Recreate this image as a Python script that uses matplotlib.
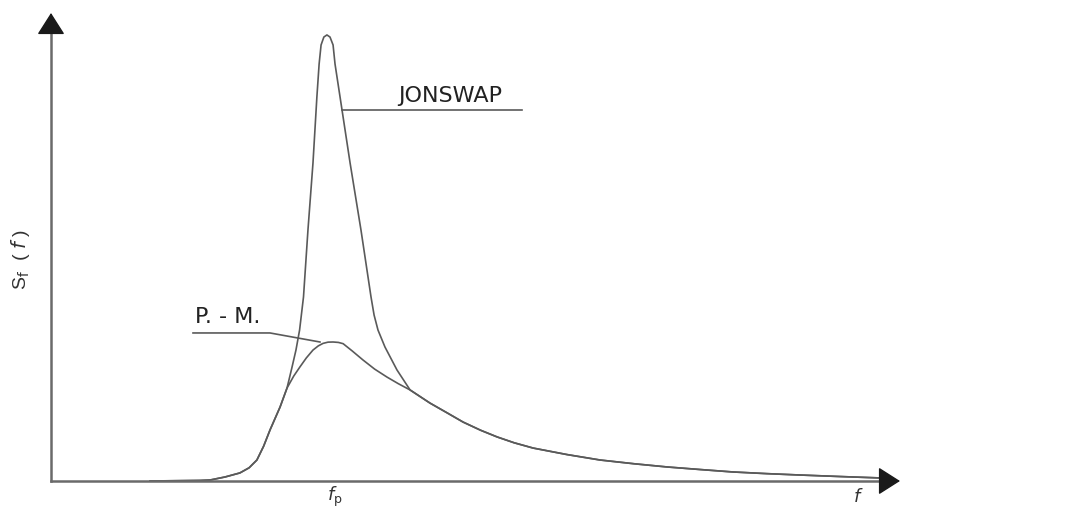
import matplotlib
matplotlib.use("Agg")
import matplotlib.pyplot as plt

# Frequency normalised by peak frequency (f / fp), spectral density normalised by P-M peak
pm_f = [0.355, 0.534, 0.570, 0.624, 0.677, 0.710, 0.738, 0.762, 0.785, 0.821, 0.846,
        0.870, 0.892, 0.915, 0.939, 0.958, 0.975, 0.993, 1.011, 1.030, 1.047, 1.080,
        1.118, 1.160, 1.204, 1.245, 1.287, 1.358, 1.420, 1.477, 1.540, 1.599, 1.660,
        1.728, 1.850, 1.968, 2.090, 2.208, 2.330, 2.444, 2.565, 2.685, 2.830, 2.971]
pm_s = [0.000, 0.004, 0.007, 0.029, 0.058, 0.095, 0.151, 0.250, 0.367, 0.532, 0.669,
        0.755, 0.820, 0.885, 0.942, 0.972, 0.990, 0.999, 1.000, 0.997, 0.988, 0.935,
        0.871, 0.805, 0.748, 0.700, 0.655, 0.561, 0.490, 0.424, 0.365, 0.317, 0.275,
        0.237, 0.190, 0.151, 0.124, 0.101, 0.082, 0.065, 0.053, 0.043, 0.032, 0.022]

js_f = [0.355, 0.534, 0.570, 0.624, 0.677, 0.710, 0.738, 0.762, 0.785, 0.821, 0.846,
        0.864, 0.878, 0.891, 0.905, 0.921, 0.939, 0.953, 0.961, 0.968, 0.978, 0.989,
        1.000, 1.011, 1.018, 1.036, 1.072, 1.111, 1.147, 1.158, 1.172, 1.197, 1.240,
        1.287, 1.358, 1.420, 1.477, 1.540, 1.599, 1.660, 1.728, 1.850, 1.968, 2.090,
        2.208, 2.330, 2.444, 2.565, 2.685, 2.830, 2.971]
js_s = [0.000, 0.004, 0.007, 0.029, 0.058, 0.095, 0.151, 0.250, 0.367, 0.532, 0.669,
        0.820, 0.942, 1.086, 1.324, 1.806, 2.288, 2.763, 3.000, 3.137, 3.194, 3.209,
        3.194, 3.137, 3.000, 2.763, 2.288, 1.806, 1.324, 1.194, 1.086, 0.964, 0.799,
        0.655, 0.561, 0.490, 0.424, 0.365, 0.317, 0.275, 0.237, 0.190, 0.151, 0.124,
        0.101, 0.082, 0.065, 0.053, 0.043, 0.032, 0.022]

labels = ["JONSWAP", "P. - M."]

W, H = 1083, 512
fig = plt.figure(figsize=(W / 100, H / 100), dpi=100)
fig.patch.set_facecolor("white")
x0, x1 = 51, 900
ytop, ybot = 13, 481
ax = fig.add_axes([x0 / W, (H - ybot) / H, (x1 - x0) / W, (ybot - ytop) / H])
ax.set_xlim(0, (x1 - x0) / 279)
ax.set_ylim(0, (ybot - ytop) / 139)
ax.axis("off")

col = "#5a5a5a"
ax.plot(js_f, js_s, color=col, lw=1.2, clip_on=False, solid_joinstyle="round")
ax.plot(pm_f, pm_s, color=col, lw=1.2, clip_on=False, solid_joinstyle="round")

# axes with arrows
xmax = ax.get_xlim()[1]
ymax = ax.get_ylim()[1]
ax.plot([0, xmax - 0.05], [0, 0], color="#6a6a6a", lw=1.8, clip_on=False)
ax.plot([0, 0], [0, ymax - 0.1], color="#6a6a6a", lw=1.8, clip_on=False)
ast = "-|>,head_length=0.55,head_width=0.35"
ax.annotate("", xy=(xmax, 0), xytext=(xmax - 0.07, 0), annotation_clip=False,
            arrowprops=dict(arrowstyle=ast, mutation_scale=25, color="#1a1a1a",
                            lw=1.0, shrinkA=0, shrinkB=0))
ax.annotate("", xy=(0, ymax), xytext=(0, ymax - 0.14), annotation_clip=False,
            arrowprops=dict(arrowstyle=ast, mutation_scale=25, color="#1a1a1a",
                            lw=1.0, shrinkA=0, shrinkB=0))

# leader lines and labels
ax.plot([1.043, 1.688], [2.669, 2.669], color=col, lw=1.2)
ax.text(1.244, 2.70, labels[0], fontsize=16, family="DejaVu Sans",
        ha="left", va="bottom", color="#222222")
ax.plot([0.509, 0.785, 0.964], [1.065, 1.065, 1.0], color=col, lw=1.2)
ax.text(0.516, 1.105, labels[1], fontsize=16, family="DejaVu Sans",
        ha="left", va="bottom", color="#222222")

ax.text(1.018, -0.115, r"$f_{\mathrm{p}}$", fontsize=13, ha="center", va="center",
        color="#333333", clip_on=False)
ax.text(2.892, -0.115, r"$f$", fontsize=13, ha="center", va="center",
        color="#333333", clip_on=False)

fig.text(20 / W, 1 - 260 / H, r"S$_\mathrm{f}$  ( $f$ )", rotation=90, fontsize=14,
         family="Liberation Sans", ha="center", va="center", color="#333333")

fig.savefig("out.png", dpi=100, facecolor="white")
